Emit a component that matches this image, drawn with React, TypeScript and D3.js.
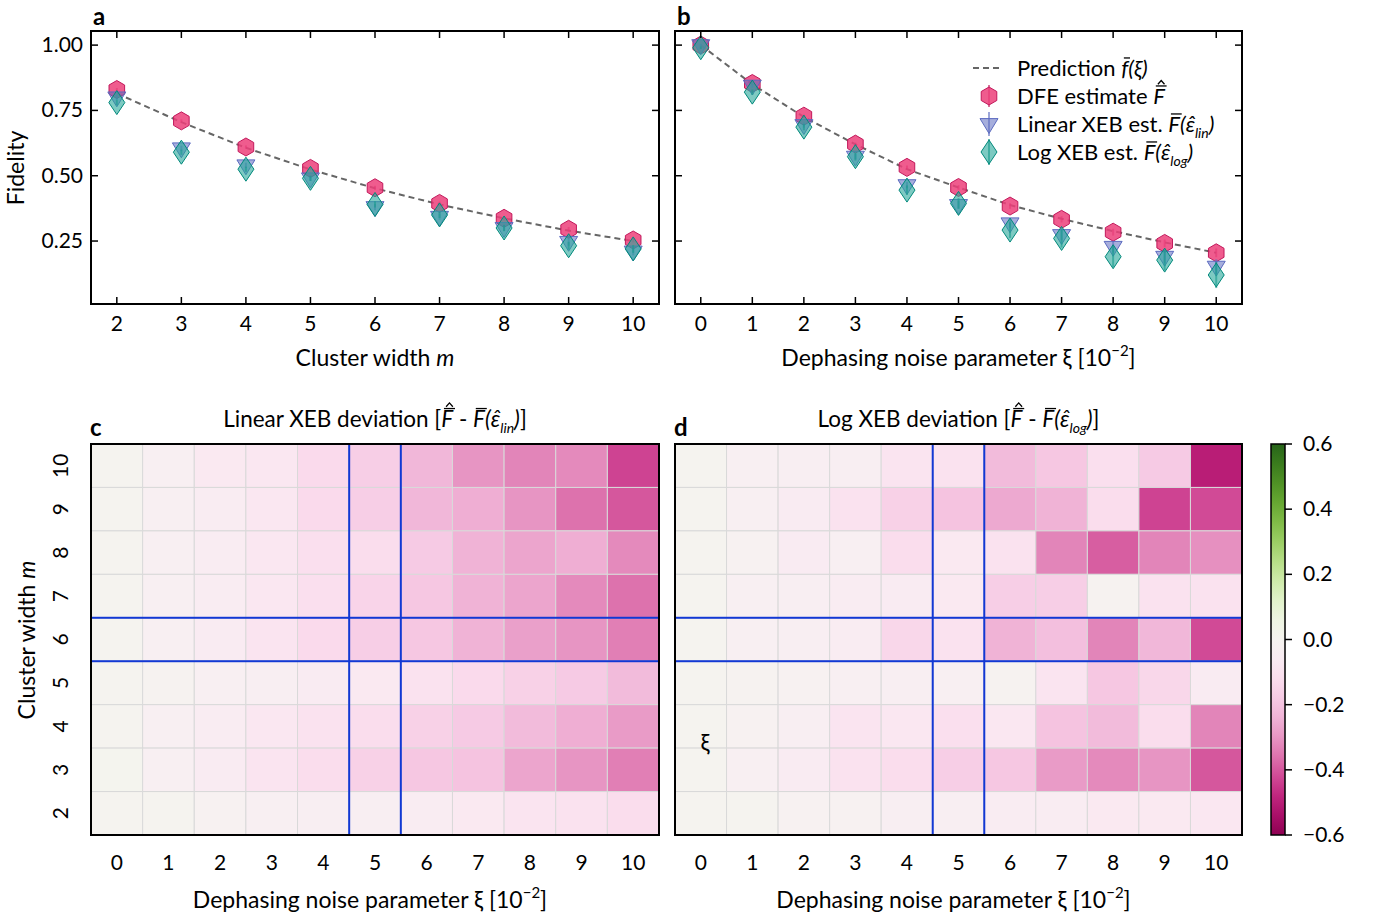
import React, { useEffect, useRef } from "react";
import * as d3 from "d3";

// cluster widths (panel a) and dephasing parameter (panel b, in 1e-2)
const widths = [2, 3, 4, 5, 6, 7, 8, 9, 10];
const xis = [0, 1, 2, 3, 4, 5, 6, 7, 8, 9, 10];

// panel a: fidelity vs cluster width m
const predA = [0.815, 0.705, 0.607, 0.524, 0.452, 0.39, 0.337, 0.29, 0.25];
const dfeA = [0.83, 0.71, 0.61, 0.528, 0.454, 0.394, 0.337, 0.295, 0.254];
const linA = [0.8, 0.605, 0.54, 0.49, 0.38, 0.343, 0.3, 0.247, 0.21];
const logA = [0.78, 0.59, 0.525, 0.49, 0.39, 0.35, 0.3, 0.232, 0.22];
const errA = [0.01, 0.01, 0.01, 0.01, 0.012, 0.012, 0.012, 0.015, 0.015];

// panel b: fidelity vs dephasing noise
const predB = [1.0, 0.85, 0.725, 0.62, 0.525, 0.455, 0.388, 0.335, 0.288, 0.245, 0.205];
const dfeB = [1.0, 0.853, 0.728, 0.621, 0.532, 0.455, 0.384, 0.333, 0.284, 0.241, 0.205];
const linB = [1.0, 0.845, 0.694, 0.573, 0.464, 0.388, 0.318, 0.273, 0.228, 0.19, 0.152];
const logB = [0.99, 0.82, 0.686, 0.573, 0.445, 0.394, 0.292, 0.26, 0.19, 0.177, 0.12];
const errLinB = [0.005, 0.008, 0.01, 0.01, 0.012, 0.015, 0.018, 0.02, 0.022, 0.025, 0.028];
const errLogB = [0.005, 0.01, 0.012, 0.015, 0.018, 0.02, 0.03, 0.035, 0.04, 0.04, 0.05];

// heatmap rows, from m = 10 (top) down to m = 2, columns xi = 0..10
const heatRows = [10, 9, 8, 7, 6, 5, 4, 3, 2];
const devLin = [
  [0, -0.03, -0.07, -0.08, -0.13, -0.17, -0.23, -0.3, -0.33, -0.32, -0.43],
  [0, -0.03, -0.05, -0.08, -0.13, -0.17, -0.23, -0.25, -0.3, -0.36, -0.4],
  [0, -0.03, -0.05, -0.08, -0.11, -0.12, -0.18, -0.24, -0.27, -0.25, -0.32],
  [0, -0.03, -0.05, -0.08, -0.11, -0.15, -0.19, -0.24, -0.27, -0.32, -0.36],
  [0, -0.03, -0.06, -0.09, -0.13, -0.17, -0.19, -0.24, -0.28, -0.3, -0.34],
  [0, -0.01, -0.03, -0.04, -0.06, -0.07, -0.1, -0.13, -0.16, -0.18, -0.22],
  [0, -0.03, -0.05, -0.08, -0.1, -0.12, -0.16, -0.18, -0.22, -0.25, -0.29],
  [0.01, -0.03, -0.06, -0.09, -0.12, -0.16, -0.19, -0.2, -0.27, -0.3, -0.34],
  [0, 0, -0.02, -0.03, -0.04, -0.04, -0.05, -0.07, -0.09, -0.1, -0.12],
];
const devLog = [
  [0, -0.03, -0.04, -0.04, -0.09, -0.1, -0.22, -0.19, -0.11, -0.18, -0.5],
  [0, -0.03, -0.06, -0.1, -0.16, -0.2, -0.26, -0.24, -0.12, -0.43, -0.42],
  [0, -0.02, -0.06, -0.03, -0.12, -0.07, -0.1, -0.33, -0.39, -0.33, -0.31],
  [0, -0.03, -0.04, -0.05, -0.06, -0.07, -0.17, -0.17, -0.01, -0.1, -0.1],
  [0, -0.03, -0.04, -0.05, -0.14, -0.1, -0.24, -0.21, -0.33, -0.23, -0.42],
  [0, -0.01, -0.02, -0.03, -0.04, -0.03, -0.01, -0.09, -0.19, -0.14, -0.06],
  [0, -0.02, -0.04, -0.09, -0.08, -0.11, -0.08, -0.2, -0.22, -0.12, -0.33],
  [0, -0.03, -0.06, -0.1, -0.12, -0.17, -0.19, -0.29, -0.32, -0.3, -0.4],
  [0, 0, -0.02, -0.02, -0.04, -0.04, -0.05, -0.05, -0.07, -0.07, -0.08],
];
const fidTicks = [0.25, 0.5, 0.75, 1.0];
const cbTicks = [0.6, 0.4, 0.2, 0.0, -0.2, -0.4, -0.6];

const FONT = "Lato, 'Noto Sans', sans-serif";
const C_DFE = { fill: "rgba(236,64,122,0.85)", stroke: "#c2185b" };
const C_LIN = { fill: "rgba(92,107,192,0.55)", stroke: "#5c6bc0" };
const C_LOG = { fill: "rgba(38,166,154,0.6)", stroke: "#00897b" };
const HL = "#1238d4";
const TICK = 21;
const LAB = 23;

const color = d3.scaleSequential(d3.interpolatePiYG).domain([-0.6, 0.6]);

const hexPath = (r: number) => {
  const pts = d3.range(6).map((i) => {
    const a = (Math.PI / 3) * i + Math.PI / 6;
    return [r * Math.cos(a), r * Math.sin(a)];
  });
  return "M" + pts.map((p) => p.join(",")).join("L") + "Z";
};
const triPath = (s: number) => `M${-s},${-s * 0.6}L${s},${-s * 0.6}L0,${s * 1.05}Z`;
const diaPath = (w: number, h: number) => `M0,${-h}L${w},0L0,${h}L${-w},0Z`;

const fmt = d3.format(".2f");
const minus = (v: number) => (v < 0 ? "\u2212" + Math.abs(v).toFixed(1) : v.toFixed(1));

// italic letter with a bar (and optional hat) added after layout
function Bar({ ch, hat }: { ch: string; hat?: boolean }) {
  return (
    <tspan fontStyle="italic" className={hat ? "ov hat" : "ov"}>{ch}</tspan>
  );
}
function Eps({ sub }: { sub: string }) {
  return (
    <>
      <tspan fontStyle="italic">(ε̂</tspan>
      <tspan fontStyle="italic" fontSize={14} dy={6}>{sub}</tspan>
      <tspan fontStyle="italic" dy={-6}>)</tspan>
    </>
  );
}

function Markers({ xs, ys, err, x, y, kind }: any) {
  const c = kind === "dfe" ? C_DFE : kind === "lin" ? C_LIN : C_LOG;
  const d = kind === "dfe" ? hexPath(9) : kind === "lin" ? triPath(9) : diaPath(8, 12);
  return (
    <g>
      {xs.map((xv: number, i: number) => (
        <g key={i} transform={`translate(${x(xv)},${y(ys[i])})`}>
          {err && (
            <line y1={y(ys[i] + err[i]) - y(ys[i])} y2={y(ys[i] - err[i]) - y(ys[i])} stroke={c.stroke} strokeOpacity={0.6} strokeWidth={2} />
          )}
          <path d={d} fill={c.fill} stroke={c.stroke} strokeWidth={1} />
        </g>
      ))}
    </g>
  );
}

function LinePanel({ left, right, label, xs, xDomain, pred, dfe, lin, log, eLin, eLog, xLabel, legend }: any) {
  const top = 31, bottom = 304;
  const x = d3.scaleLinear().domain(xDomain).range([left, right]);
  const y = d3.scaleLinear().domain([0.009, 1.054]).range([bottom, top]);
  const line = d3.line<number>().x((_, i) => x(xs[i])).y((v) => y(v));
  return (
    <g fontFamily={FONT}>
      <text x={left + 2} y={25} fontSize={24} fontWeight="bold">{label}</text>
      <path d={line(pred) || ""} fill="none" stroke="#666" strokeWidth={2} strokeDasharray="6,4" />
      <Markers xs={xs} ys={dfe} err={eLin.map((e: number) => e * 0.6)} x={x} y={y} kind="dfe" />
      <Markers xs={xs} ys={lin} err={eLin} x={x} y={y} kind="lin" />
      <Markers xs={xs} ys={log} err={eLog} x={x} y={y} kind="log" />
      <rect x={left} y={top} width={right - left} height={bottom - top} fill="none" stroke="#000" strokeWidth={2} />
      {xs.map((v: number) => (
        <g key={v}>
          <line x1={x(v)} x2={x(v)} y1={bottom} y2={bottom - 7} stroke="#000" strokeWidth={1.5} />
          <line x1={x(v)} x2={x(v)} y1={top} y2={top + 7} stroke="#000" strokeWidth={1.5} />
          <text x={x(v)} y={331} fontSize={TICK} textAnchor="middle">{v}</text>
        </g>
      ))}
      {fidTicks.map((v) => (
        <g key={v}>
          <line x1={left} x2={left + 7} y1={y(v)} y2={y(v)} stroke="#000" strokeWidth={1.5} />
          <line x1={right} x2={right - 7} y1={y(v)} y2={y(v)} stroke="#000" strokeWidth={1.5} />
          {legend ? null : <text x={left - 8} y={y(v) + 7} fontSize={TICK} textAnchor="end">{fmt(v)}</text>}
        </g>
      ))}
      <text x={(left + right) / 2} y={366} fontSize={LAB} textAnchor="middle">{xLabel}</text>
      {legend && (
        <g>
          <line x1={973} x2={1003} y1={68} y2={68} stroke="#666" strokeWidth={2} strokeDasharray="6,4" />
          <g transform="translate(989,96)">
            <line y1={-11} y2={11} stroke={C_DFE.stroke} strokeOpacity={0.6} strokeWidth={2} />
            <path d={hexPath(9)} fill={C_DFE.fill} stroke={C_DFE.stroke} />
          </g>
          <g transform="translate(989,124)">
            <line y1={-12} y2={12} stroke={C_LIN.stroke} strokeOpacity={0.6} strokeWidth={2} />
            <path d={triPath(9)} fill={C_LIN.fill} stroke={C_LIN.stroke} />
          </g>
          <g transform="translate(989,152)">
            <line y1={-13} y2={13} stroke={C_LOG.stroke} strokeOpacity={0.6} strokeWidth={2} />
            <path d={diaPath(8, 12)} fill={C_LOG.fill} stroke={C_LOG.stroke} />
          </g>
          <text x={1017} y={76} fontSize={22}>Prediction <Bar ch="f" /><tspan fontStyle="italic">(ξ)</tspan></text>
          <text x={1017} y={104} fontSize={22}>DFE estimate <Bar ch="F" hat /></text>
          <text x={1017} y={132} fontSize={22}>Linear XEB est. <Bar ch="F" /><Eps sub="lin" /></text>
          <text x={1017} y={160} fontSize={22}>Log XEB est. <Bar ch="F" /><Eps sub="log" /></text>
        </g>
      )}
    </g>
  );
}

function HeatPanel({ left, right, label, values, sub, title }: any) {
  const top = 444, bottom = 835;
  const x = d3.scaleBand<number>().domain(xis).range([left, right]);
  const y = d3.scaleBand<number>().domain(heatRows).range([top, bottom]);
  const bw = x.bandwidth(), bh = y.bandwidth();
  return (
    <g fontFamily={FONT}>
      <text x={left - 1} y={436} fontSize={24} fontWeight="bold">{label}</text>
      <text x={(left + right) / 2} y={427} fontSize={22.5} textAnchor="middle">
        {title} [<Bar ch="F" hat /> - <Bar ch="F" /><Eps sub={sub} />]
      </text>
      {values.map((row: number[], ri: number) =>
        row.map((v, ci) => (
          <rect key={ri + "-" + ci} x={x(xis[ci])} y={y(heatRows[ri])} width={bw} height={bh} fill={color(v)} stroke="#d9d9d9" strokeWidth={1} />
        ))
      )}
      <rect x={x(5)} y={top} width={bw} height={bottom - top} fill="none" stroke={HL} strokeWidth={2} />
      <rect x={left} y={y(6)} width={right - left} height={bh} fill="none" stroke={HL} strokeWidth={2} />
      <rect x={left} y={top} width={right - left} height={bottom - top} fill="none" stroke="#000" strokeWidth={2} />
      {xis.map((v) => (
        <text key={v} x={(x(v) as number) + bw / 2} y={870} fontSize={TICK} textAnchor="middle">{v}</text>
      ))}
      <text x={(left + right) / 2 - 5} y={908} fontSize={LAB} textAnchor="middle">
        Dephasing noise parameter ξ [10<tspan fontSize={15} dy={-10}>−2</tspan><tspan dy={10}>]</tspan>
      </text>
    </g>
  );
}

export default function App() {
  const ref = useRef<SVGSVGElement>(null);
  const cbY = d3.scaleLinear().domain([-0.6, 0.6]).range([835, 444]);
  const stops = d3.range(0, 1.0001, 0.05);
  const hy = d3.scaleBand<number>().domain(heatRows).range([444, 835]);
  const xiLabel = (
    <tspan>Dephasing noise parameter ξ [10<tspan fontSize={15} dy={-10}>−2</tspan><tspan dy={10}>]</tspan></tspan>
  );

  // overlines and hats for the math letters
  useEffect(() => {
    const svg = d3.select(ref.current);
    const over = svg.select("g.overlay");
    over.selectAll("*").remove();
    svg.selectAll<SVGTSpanElement, unknown>("tspan.ov").each(function () {
      const p = this.getStartPositionOfChar(0);
      const w = this.getComputedTextLength();
      const fs = parseFloat(getComputedStyle(this).fontSize);
      const yb = p.y - 0.82 * fs;
      const x1 = p.x + 0.12 * fs;
      const x2 = p.x + w + 0.08 * fs;
      over.append("line").attr("x1", x1).attr("x2", x2).attr("y1", yb).attr("y2", yb)
        .attr("stroke", "#000").attr("stroke-width", 1.3);
      if (this.classList.contains("hat")) {
        const cx = (x1 + x2) / 2;
        over.append("path")
          .attr("d", `M${cx - 0.15 * fs},${yb - 0.08 * fs}L${cx},${yb - 0.25 * fs}L${cx + 0.15 * fs},${yb - 0.08 * fs}`)
          .attr("fill", "none").attr("stroke", "#000").attr("stroke-width", 1.3);
      }
    });
  }, []);

  return (
    <svg ref={ref} width={1377} height={919} style={{ display: "block", position: "absolute", left: 0, top: 0, background: "#fff" }}>
      <defs>
        <linearGradient id="cb" x1="0" y1="1" x2="0" y2="0">
          {stops.map((t) => (
            <stop key={t} offset={t} stopColor={d3.interpolatePiYG(t)} />
          ))}
        </linearGradient>
      </defs>
      <LinePanel left={91} right={659} label="a" xs={widths} xDomain={[1.6, 10.4]} pred={predA} dfe={dfeA} lin={linA} log={logA} eLin={errA} eLog={errA}
        xLabel={<tspan>Cluster width <tspan fontStyle="italic">m</tspan></tspan>} />
      <LinePanel left={675} right={1242} label="b" xs={xis} xDomain={[-0.5, 10.5]} pred={predB} dfe={dfeB} lin={linB} log={logB} eLin={errLinB} eLog={errLogB}
        xLabel={xiLabel} legend />
      <text transform="translate(24,168) rotate(-90)" fontFamily={FONT} fontSize={LAB} textAnchor="middle">Fidelity</text>

      <HeatPanel left={91} right={659} label="c" values={devLin} sub="lin" title="Linear XEB deviation" />
      <HeatPanel left={675} right={1242} label="d" values={devLog} sub="log" title="Log XEB deviation" />
      <text x={705} y={751} fontFamily={FONT} fontSize={23} textAnchor="middle">ξ</text>

      {heatRows.map((m) => (
        <text key={m} transform={`translate(${68},${(hy(m) as number) + hy.bandwidth() / 2}) rotate(-90)`} fontFamily={FONT} fontSize={TICK} textAnchor="middle">{m}</text>
      ))}
      <text transform="translate(35,640) rotate(-90)" fontFamily={FONT} fontSize={LAB} textAnchor="middle">
        Cluster width <tspan fontStyle="italic">m</tspan>
      </text>

      <rect x={1271} y={444} width={14} height={391} fill="url(#cb)" stroke="#000" strokeWidth={1.5} />
      {cbTicks.map((v) => (
        <g key={v} fontFamily={FONT}>
          <line x1={1285} x2={1292} y1={cbY(v)} y2={cbY(v)} stroke="#000" strokeWidth={1.5} />
          <text x={1303} y={cbY(v) + 7} fontSize={TICK}>{minus(v)}</text>
        </g>
      ))}
      <g className="overlay" />
    </svg>
  );
}
